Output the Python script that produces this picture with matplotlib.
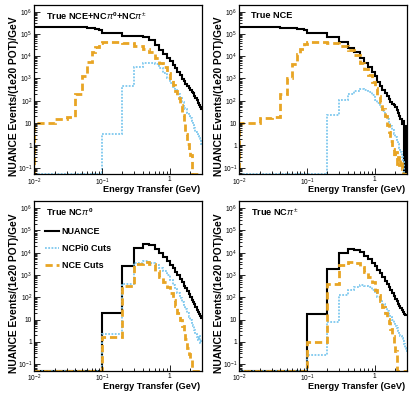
# histogramas de energy transfer - NUANCE vs cortes NCE / NCPi0
import numpy as np
import matplotlib
matplotlib.use("Agg")
import matplotlib.pyplot as plt
from matplotlib.ticker import LogLocator, FixedLocator, FuncFormatter, NullFormatter

plt.rcParams["font.family"] = ["Liberation Sans", "DejaVu Sans"]
plt.rcParams["mathtext.fontset"] = "custom"
plt.rcParams["mathtext.rm"] = "Liberation Sans"
plt.rcParams["mathtext.it"] = "Liberation Sans:italic"
plt.rcParams["mathtext.bf"] = "Liberation Sans:bold"

# bins (GeV): 0.01 de largura ate 0.1, depois 0.1 ate 3.0
bordas = np.round(np.concatenate([np.arange(0, 0.1, 0.01), np.arange(0.1, 3.05, 0.1)]), 2)

zeros_baixo = [0, 0, 0, 0, 0, 0, 0, 0, 0, 0]

titulos = [
    r"True NCE+NC$\pi^{\mathbf{0}}$+NC$\pi^{\pm}$",
    "True NCE",
    r"True NC$\pi^{\mathbf{0}}$",
    r"True NC$\pi^{\pm}$",
]

# painel 1: NCE + NCpi0 + NCpi+-
nuance_todos = [2.1e5, 2.1e5, 2.1e5, 2.05e5, 2.0e5, 1.95e5, 1.85e5, 1.75e5, 1.65e5, 1.55e5,
                1.15e5, 7.9e4, 7.8e4, 7.2e4, 5.6e4, 3.1e4, 1.9e4, 1.23e4, 8.5e3, 5.9e3,
                3.9e3, 2.9e3, 2.0e3, 1.5e3, 980, 740, 590, 470, 370, 310,
                260, 215, 170, 130, 105, 83, 66, 54, 44]
ncpi0_todos = zeros_baixo + [3.1, 480, 3.2e3, 5.2e3, 5.2e3, 4.4e3, 2.9e3, 1.75e3, 1.0e3, 650,
                             430, 300, 200, 130, 85, 60, 42, 29, 21, 16,
                             12, 8.5, 6.2, 3.9, 3.1, 2.6, 2.1, 1.7, 1.2]
nce_todos = [0, 10, 15.5, 19, 210, 1.3e3, 5.6e3, 1.5e4, 2.5e4, 4.1e4,
             4.3e4, 4.1e4, 2.9e4, 2.2e4, 1.5e4, 7.9e3, 4.9e3, 3.2e3, 1.8e3, 890,
             500, 270, 138, 62, 24, 9.1, 3.1, 1.2, 0.58, 0.35,
             0, 0, 0, 0, 0, 0, 0, 0, 0]

# painel 2: NCE verdadeiro
nuance_nce = [2.0e5, 2.0e5, 2.0e5, 1.95e5, 1.9e5, 1.85e5, 1.8e5, 1.7e5, 1.6e5, 1.55e5,
              1.12e5, 7.4e4, 4.3e4, 2.45e4, 1.48e4, 7.9e3, 4.9e3, 3.2e3, 2.0e3, 1.3e3,
              690, 440, 310, 220, 160, 120, 91, 72, 62, 50,
              40, 28, 20, 14.5, 9.1, 12, 0, 0, 7.2]
ncpi0_nce = zeros_baixo + [0, 24, 110, 195, 270, 320, 310, 250, 180, 110,
                           78, 50, 33, 21, 15, 9.8, 7.1, 5.0, 3.3, 2.4,
                           1.7, 1.1, 0.76, 0.49, 0.3, 0.18, 0, 0, 0]
nce_nce = [0, 10, 17, 18, 210, 1.0e3, 4.4e3, 1.2e4, 2.2e4, 3.5e4,
           4.5e4, 4.1e4, 2.9e4, 1.9e4, 1.12e4, 5.2e3, 2.7e3, 1.4e3, 690, 380,
           170, 85, 44, 20, 8.5, 4.1, 1.6, 0.68, 0.3, 0.49,
           0.15, 0.3, 0.13, 0.21, 0.09, 0, 0, 0, 0]

# painel 3: NCpi0 verdadeiro
nuance_pi0 = zeros_baixo + [19, 2.5e3, 1.6e4, 2.45e4, 2.15e4, 1.5e4, 9.8e3, 6.3e3, 4.2e3, 2.8e3,
                            2.1e3, 1.4e3, 1.0e3, 660, 470, 330, 260, 200, 145, 102,
                            78, 62, 49, 37, 28, 21, 18, 14.5, 12]
ncpi0_pi0 = zeros_baixo + [2.2, 400, 3.5e3, 4.2e3, 3.5e3, 2.8e3, 2.1e3, 1.5e3, 980, 590,
                           370, 240, 155, 95, 62, 43, 30, 20, 13.5, 9.5,
                           6.8, 4.9, 3.5, 2.3, 1.66, 1.26, 1.8, 0.9, 1.17]
nce_pi0 = zeros_baixo + [1.7, 330, 3.0e3, 3.9e3, 3.0e3, 1.5e3, 830, 470, 280, 155,
                         78, 40, 20, 10, 5.2, 3.0, 1.35, 0.54, 0.28, 0.17,
                         0, 0, 0, 0, 0, 0, 0, 0, 0]

# painel 4: NCpi+- verdadeiro
nuance_pipm = zeros_baixo + [17, 1.8e3, 9.8e3, 1.48e4, 1.38e4, 1.02e4, 7.2e3, 5.0e3, 3.5e3, 2.45e3,
                             1.74e3, 1.26e3, 830, 550, 400, 280, 215, 155, 112, 87,
                             68, 52, 41, 32, 26, 21, 18.6, 16.6, 15.5]
ncpi0_pipm = zeros_baixo + [0.26, 8.1, 120, 215, 300, 345, 330, 280, 215, 155,
                            102, 72, 52, 35, 25, 18.6, 13.5, 9.5, 6.8, 5.2,
                            4.1, 3.2, 2.6, 1.9, 1.48, 1.07, 0.76, 0.54, 0.39]
nce_pipm = zeros_baixo + [1.0, 400, 2.8e3, 3.8e3, 3.3e3, 2.3e3, 1.4e3, 830, 470, 215,
                          120, 68, 37, 20, 11, 6.8, 3.7, 1.8, 0.76, 0.4,
                          0, 0, 0, 0, 0, 0, 0, 0, 0]

paineis = [
    (nuance_todos, ncpi0_todos, nce_todos),
    (nuance_nce, ncpi0_nce, nce_nce),
    (nuance_pi0, ncpi0_pi0, nce_pi0),
    (nuance_pipm, ncpi0_pipm, nce_pipm),
]

ymin, ymax = 0.05, 2e6
xmin, xmax = 0.01, 3.0

cor_azul = "#7ec8ee"
cor_laranja = "#e8a524"

posicoes = [
    [0.0827, 0.5587, 0.4041, 0.4289],
    [0.5766, 0.5587, 0.4041, 0.4289],
    [0.0827, 0.0613, 0.4041, 0.4289],
    [0.5766, 0.0613, 0.4041, 0.4289],
]


def rotulo_log(v, pos):
    e = int(round(np.log10(v)))
    if e == 0:
        return "1"
    if e == 1:
        return "10"
    return "10$^{%d}$" % e


fig = plt.figure(figsize=(4.15, 3.95), dpi=100)

for i, (nuance, ncpi0, nce) in enumerate(paineis):
    ax = fig.add_axes(posicoes[i])
    ax.set_xscale("log")
    ax.set_yscale("log")

    l1 = ax.stairs(np.clip(nuance, ymin, None), bordas, baseline=None,
                   color="black", lw=1.5, label="NUANCE")
    l2 = ax.stairs(np.clip(ncpi0, ymin, None), bordas, baseline=None,
                   color=cor_azul, lw=1.3, ls=(0, (1, 0.8)), label="NCPi0 Cuts")
    l3 = ax.stairs(np.clip(nce, ymin, None), bordas, baseline=None,
                   color=cor_laranja, lw=2.0, ls=(0, (2.6, 1.4)), label="NCE Cuts")

    ax.set_xlim(xmin, xmax)
    ax.set_ylim(ymin, ymax)

    ax.xaxis.set_major_locator(FixedLocator([0.01, 0.1, 1]))
    ax.xaxis.set_minor_locator(LogLocator(base=10, subs=np.arange(2, 10)))
    ax.yaxis.set_major_locator(FixedLocator([0.1, 1, 10, 1e2, 1e3, 1e4, 1e5, 1e6]))
    ax.yaxis.set_minor_locator(LogLocator(base=10, subs=np.arange(2, 10), numticks=20))
    ax.xaxis.set_major_formatter(FuncFormatter(rotulo_log))
    ax.yaxis.set_major_formatter(FuncFormatter(rotulo_log))
    ax.xaxis.set_minor_formatter(NullFormatter())
    ax.yaxis.set_minor_formatter(NullFormatter())

    ax.tick_params(which="both", direction="in", top=False, right=False, labelsize=4.8, width=0.6)
    ax.tick_params(which="major", length=4, pad=1.5)
    ax.tick_params(which="minor", length=2)
    for s in ax.spines.values():
        s.set_linewidth(0.9)

    ax.text(0.07, 0.935, titulos[i], transform=ax.transAxes, fontsize=6.6,
            fontweight="bold", ha="left", va="center")
    ax.text(-0.122, 0.93, "NUANCE Events/(1e20 POT)/GeV", transform=ax.transAxes,
            rotation=90, fontsize=7.4, fontweight="bold", ha="center", va="top")
    ax.text(0.99, -0.092, "Energy Transfer (GeV)", transform=ax.transAxes,
            fontsize=6.6, fontweight="bold", ha="right", va="center")

    if i == 2:
        ax.legend(handles=[l1, l2, l3], loc="upper left", bbox_to_anchor=(0.064, 0.85),
                  frameon=False, borderpad=0, borderaxespad=0, handlelength=1.6,
                  handletextpad=0.25, labelspacing=0.9,
                  prop={"size": 6.5, "weight": "bold"})

plt.savefig("out.png", dpi=100)
plt.close()
